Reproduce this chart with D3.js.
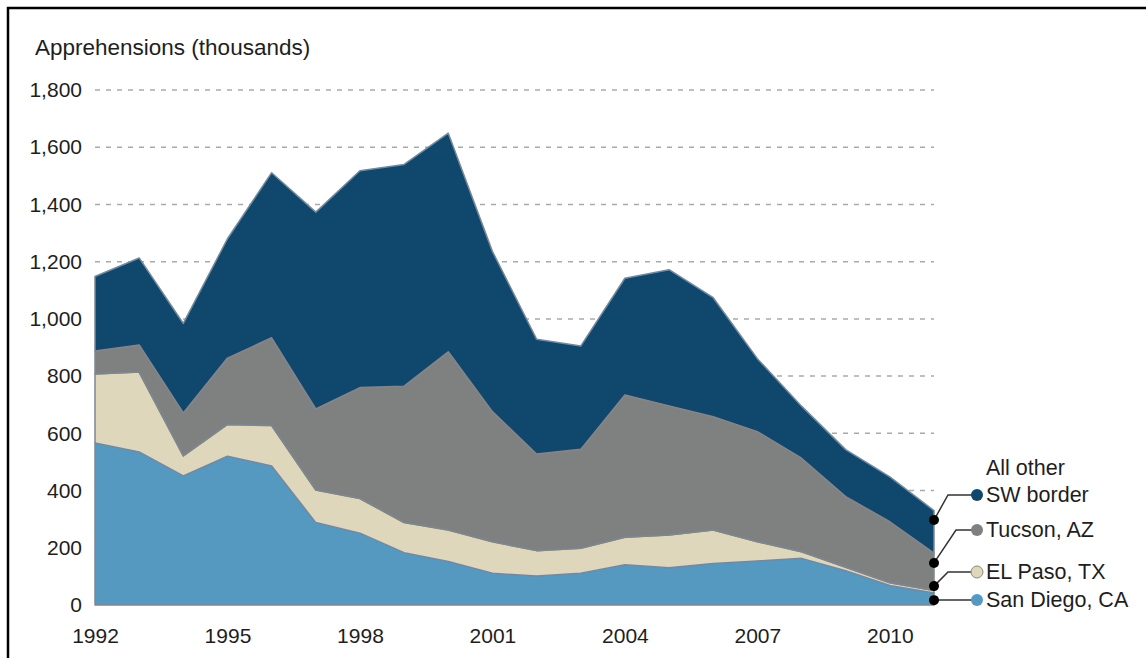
<!DOCTYPE html>
<html>
<head>
  <meta charset="utf-8">
  <title>Southwest border apprehensions</title>
  <script src="https://d3js.org/d3.v7.min.js"></script>
  <style>
    body { margin: 0; background: #fff; }
    text { font-family: "Liberation Sans", Arial, sans-serif; fill: #1e1e1e; }
    .grid line { stroke: #aaa; stroke-width: 1.5px; stroke-dasharray: 5,6; }
    .area { stroke: #7d8794; stroke-width: 1.5px; stroke-linejoin: round; }
    .lead { stroke: #333; stroke-width: 1.5px; fill: none; }
  </style>
</head>
<body>
  <svg width="1146" height="658"></svg>
  <script>
    // apprehensions, thousands
    const years = d3.range(1992, 2012);
    const sanDiego = [566, 535, 451, 520, 486, 288, 251, 183, 152, 111, 101, 111, 141, 130, 145, 154, 163, 120, 68, 42];
    const elPaso   = [241, 279, 70, 111, 141, 114, 121, 105, 110, 110, 89, 87, 96, 115, 117, 67, 23, 12, 10, 9];
    const tucson   = [81, 95, 150, 232, 307, 283, 388, 477, 623, 455, 338, 346, 497, 451, 396, 385, 327, 247, 213, 130];
    const allOther = [260, 304, 313, 417, 577, 688, 758, 775, 764, 560, 401, 361, 408, 476, 416, 255, 182, 164, 157, 149];

    const seriesKeys = ["sanDiego", "elPaso", "tucson", "allOther"];
    const seriesColors = ["#5599c1", "#ded7bb", "#7f8180", "#0f486c"];
    const legendLabels = [["San Diego, CA"], ["EL Paso, TX"], ["Tucson, AZ"], ["All other", "SW border"]];
    const yTicks = [0, 200, 400, 600, 800, 1000, 1200, 1400, 1600, 1800];
    const xTicks = [1992, 1995, 1998, 2001, 2004, 2007, 2010];
    // where each leader line leaves the 2011 edge (thousands)
    const leadAnchors = [17, 66, 147, 297];

    const rows = years.map((yr, i) => ({
      year: yr, sanDiego: sanDiego[i], elPaso: elPaso[i], tucson: tucson[i], allOther: allOther[i]
    }));

    const svg = d3.select("svg");
    const x = d3.scaleLinear().domain([1992, 2011]).range([95, 934]);
    const y = d3.scaleLinear().domain([0, 1800]).range([605, 90]);

    // frame
    svg.append("path")
      .attr("d", "M8,658 V8 H1146")
      .attr("fill", "none").attr("stroke", "#000").attr("stroke-width", 2.5);

    // title
    svg.append("text").attr("x", 35).attr("y", 55)
      .style("font-size", "22.5px").text("Apprehensions (thousands)");

    // gridlines
    svg.append("g").attr("class", "grid")
      .selectAll("line").data(yTicks.filter(d => d > 0)).join("line")
      .attr("x1", x(1992)).attr("x2", x(2011))
      .attr("y1", d => y(d)).attr("y2", d => y(d));

    // stacked areas
    const stack = d3.stack().keys(seriesKeys);
    const layers = stack(rows);
    const area = d3.area()
      .x(d => x(d.data.year))
      .y0(d => y(d[0]))
      .y1(d => y(d[1]));

    svg.append("g").selectAll("path").data(layers).join("path")
      .attr("class", "area")
      .attr("fill", (d, i) => seriesColors[i])
      .attr("d", area);

    // y axis labels
    const yAxis = svg.append("g")
      .attr("transform", "translate(82,0)")
      .call(d3.axisLeft(y).tickValues(yTicks).tickFormat(d3.format(",")).tickSize(0).tickPadding(0));
    yAxis.select(".domain").remove();
    yAxis.selectAll("text").style("font-size", "21px").attr("fill", "#1e1e1e")
      .style("font-family", "Liberation Sans, Arial, sans-serif");

    // x axis labels
    const xAxis = svg.append("g")
      .attr("transform", "translate(0,628)")
      .call(d3.axisBottom(x).tickValues(xTicks).tickFormat(d3.format("d")).tickSize(0).tickPadding(0));
    xAxis.select(".domain").remove();
    xAxis.selectAll("text").style("font-size", "21px").attr("fill", "#1e1e1e")
      .style("font-family", "Liberation Sans, Arial, sans-serif");

    // legend with leader lines from the 2011 edge
    const legendY = [600, 572, 530, 495];
    const elbowX = [934, 948, 956, 948];
    const lg = svg.append("g");
    seriesKeys.forEach((k, i) => {
      const ay = y(leadAnchors[i]);
      lg.append("path").attr("class", "lead")
        .attr("d", `M${x(2011)},${ay} L${elbowX[i]},${legendY[i]} L972,${legendY[i]}`);
      lg.append("circle").attr("cx", x(2011)).attr("cy", ay).attr("r", 5).attr("fill", "#000");
      lg.append("circle").attr("cx", 977).attr("cy", legendY[i]).attr("r", 6)
        .attr("fill", seriesColors[i]).attr("stroke", i === 1 ? "#8a8a7a" : "none").attr("stroke-width", 1);
      const lines = legendLabels[i];
      lines.forEach((t, j) => {
        lg.append("text").attr("x", 986)
          .attr("y", legendY[i] + 7 - (lines.length - 1 - j) * 27)
          .style("font-size", "21.5px").text(t);
      });
    });
  </script>
</body>
</html>
